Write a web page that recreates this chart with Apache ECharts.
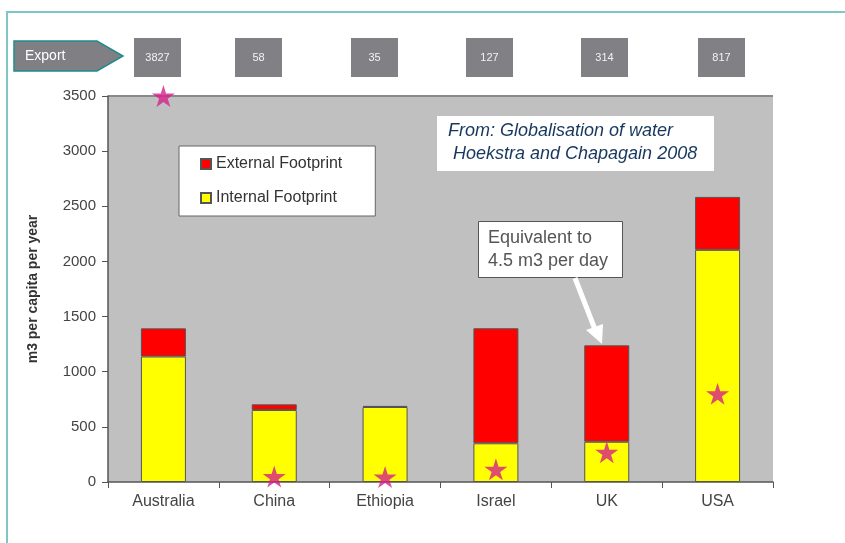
<!DOCTYPE html>
<html>
<head>
<meta charset="utf-8">
<script src="https://cdn.jsdelivr.net/npm/echarts@6/dist/echarts.min.js"></script>
<style>
html,body{margin:0;padding:0;background:#fff;}
#chart{width:845px;height:543px;}
</style>
</head>
<body>
<div id="chart"></div>
<script>
var categories = ['Australia', 'China', 'Ethiopia', 'Israel', 'UK', 'USA'];
var internalFootprint = [1138, 653, 680, 351, 365, 2105];
var externalFootprint = [255, 51, 10, 1043, 874, 480];
var exportValues = [3827, 58, 35, 127, 314, 817];
var exportStars = [3500, 50, 45, 115, 270, 800];
var yTicks = [0, 500, 1000, 1500, 2000, 2500, 3000, 3500];

// layout of decorative boxes (not data)
var exportBoxX = [134, 235, 351, 466, 581, 698];

var FONT = '"Liberation Sans", Arial, sans-serif';
var STAR = 'path://M50,0 L61,35 L98,35 L68,57 L79,91 L50,70 L21,91 L32,57 L2,35 L39,35 Z';

var chart = echarts.init(document.getElementById('chart'), null, {renderer: 'canvas'});

var graphics = [
  {type: 'polyline', shape: {points: [[7, 543], [7, 12], [845, 12]]}, style: {stroke: '#7fc6c6', lineWidth: 2, fill: null}, z: 1},
  {type: 'polygon', shape: {points: [[14, 41], [97, 41], [123, 56], [97, 71], [14, 71]]}, style: {fill: '#808084', stroke: '#1f8c8c', lineWidth: 1.5}, z: 5},
  {type: 'text', left: 25, top: 49, style: {text: 'Export', fill: '#ffffff', font: '14px ' + FONT}, z: 6},
  {type: 'rect', shape: {x: 437, y: 116, width: 277, height: 55}, style: {fill: '#ffffff'}, z: 5},
  {type: 'text', left: 448, top: 122, style: {text: 'From: Globalisation of water', fill: '#17375e', font: 'italic 18px ' + FONT}, z: 6},
  {type: 'text', left: 453, top: 145, style: {text: 'Hoekstra and Chapagain 2008', fill: '#17375e', font: 'italic 18px ' + FONT}, z: 6},
  {type: 'rect', shape: {x: 478.5, y: 221.5, width: 144, height: 56}, style: {fill: '#ffffff', stroke: '#555555', lineWidth: 1}, z: 5},
  {type: 'text', left: 488, top: 229, style: {text: 'Equivalent to', fill: '#555555', font: '18px ' + FONT}, z: 6},
  {type: 'text', left: 488, top: 252, style: {text: '4.5 m3 per day', fill: '#555555', font: '18px ' + FONT}, z: 6},
  {type: 'line', shape: {x1: 575, y1: 278, x2: 596, y2: 332}, style: {stroke: '#ffffff', lineWidth: 5}, z: 6},
  {type: 'polygon', shape: {points: [[586, 330], [603, 324], [602, 344]]}, style: {fill: '#ffffff'}, z: 6}
];
exportValues.forEach(function (v, i) {
  graphics.push({type: 'rect', shape: {x: exportBoxX[i], y: 38, width: 47, height: 39}, style: {fill: '#818185'}, z: 5});
  graphics.push({type: 'text', x: exportBoxX[i] + 23.5, y: 57.5, style: {text: String(v), fill: '#f2f2f2', font: '11px ' + FONT, textAlign: 'center', textVerticalAlign: 'middle'}, z: 6});
});

var option = {
  animation: false,
  backgroundColor: '#ffffff',
  grid: {left: 108, right: 72, top: 96, bottom: 61, show: true, backgroundColor: '#c0c0c0', borderWidth: 0, containLabel: false},
  legend: {
    data: ['External Footprint', 'Internal Footprint'],
    orient: 'vertical',
    left: 179, top: 146,
    icon: 'rect',
    backgroundColor: '#ffffff',
    borderColor: '#666666', borderWidth: 1,
    padding: [10, 33, 10, 21],
    itemWidth: 10, itemHeight: 10, itemGap: 18,
    textStyle: {fontFamily: FONT, fontSize: 16, color: '#333333'}
  },
  xAxis: {
    type: 'category',
    data: categories,
    axisLine: {lineStyle: {color: '#555555', width: 1.5}},
    axisTick: {show: true, length: 6, lineStyle: {color: '#555555'}},
    axisLabel: {fontFamily: FONT, fontSize: 16, color: '#444444', margin: 12}
  },
  yAxis: {
    type: 'value',
    min: yTicks[0], max: yTicks[yTicks.length - 1], interval: 500,
    name: 'm3 per capita per year',
    nameLocation: 'middle', nameGap: 68, nameRotate: 90,
    nameTextStyle: {fontFamily: FONT, fontSize: 14, fontWeight: 'bold', color: '#333333'},
    axisLine: {show: true, lineStyle: {color: '#555555', width: 1.5}},
    axisTick: {show: true, length: 6, lineStyle: {color: '#555555'}},
    axisLabel: {fontFamily: FONT, fontSize: 15, color: '#444444', margin: 12, formatter: function (v) { return String(v); }},
    splitLine: {show: true, lineStyle: {color: ['rgba(0,0,0,0)', 'rgba(0,0,0,0)', 'rgba(0,0,0,0)', 'rgba(0,0,0,0)', 'rgba(0,0,0,0)', 'rgba(0,0,0,0)', 'rgba(0,0,0,0)', '#8a8a8a'], width: 2}}
  },
  series: [
    {name: 'Internal Footprint', type: 'bar', stack: 'fp', barWidth: 45, data: internalFootprint,
      itemStyle: {color: '#ffff00', borderColor: '#555555', borderWidth: 1}},
    {name: 'External Footprint', type: 'bar', stack: 'fp', barWidth: 45, data: externalFootprint,
      itemStyle: {color: '#ff0000', borderColor: '#555555', borderWidth: 1}},
    {name: 'Export', type: 'scatter', data: exportStars, symbol: STAR, symbolSize: [23, 22], clip: false,
      itemStyle: {color: '#d6208a'}, z: 10}
  ],
  graphic: graphics
};
chart.setOption(option);
</script>
</body>
</html>
